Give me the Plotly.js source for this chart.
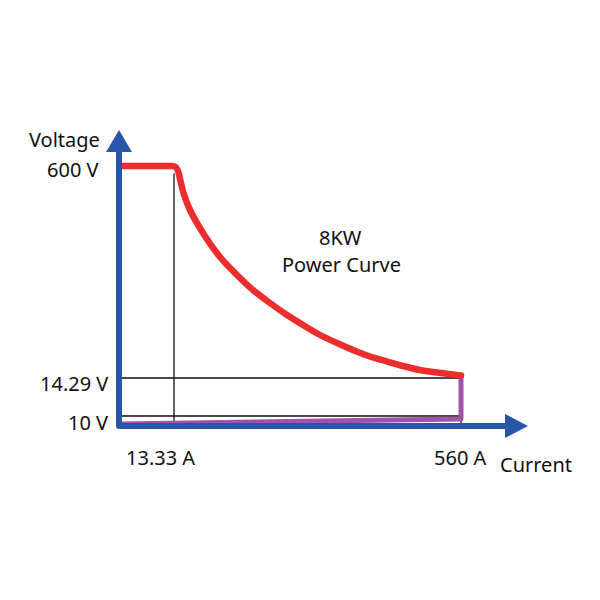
<!DOCTYPE html>
<html>
<head>
<meta charset="utf-8">
<script src="https://cdn.plot.ly/plotly-3.0.1.min.js"></script>
<style>html,body{margin:0;padding:0;background:#fff;}#chart{width:600px;height:600px;}
#chart .scatterlayer path.js-line{stroke-linejoin:round;stroke-linecap:round;}</style>
</head>
<body>
<div id="chart"></div>
<script>
// Schematic (not-to-scale) axis units
const powerLabel = "8KW";
const curveLabel = "Power Curve";
const currentTickLabels = ["13.33 A", "560 A"];
const currentTickPos = [55, 342];
const voltageTickLabels = ["600 V", "14.29 V", "10 V"];
const voltageTickPos = [260, 48, 10];

// Constant-voltage then constant-power (8 kW) curve, schematic positions
const curveX = [3, 30, 52, 55, 57.5, 59.5, 61.5, 64.5, 71, 84, 101, 118, 134, 151, 168, 184, 201, 218, 234, 251, 268, 284, 301, 318, 330, 342];
const curveY = [260, 260, 260, 259.7, 258, 253.5, 245, 233, 216, 193, 169, 151, 136, 123, 111, 101, 91, 83, 76, 69.5, 64.5, 60, 56, 53.5, 52, 50.5];

// Constant-current limit segment (purple)
const limitX = [0, 342, 342];
const limitY = [2, 7, 50];

// Axis extents
const xAxisEnd = 386, yAxisEnd = 274;

const FONT = "Noto Sans, Open Sans, sans-serif";
const BLUE = "#2957a8", RED = "#ec2d2d", PURPLE = "#a152aa";

const traces = [];
const guide = {color:"#111", width:1.3, simplify:false};
traces.push({x:[currentTickPos[0], currentTickPos[0]], y:[252, 0], mode:"lines", line:guide, hoverinfo:"skip"});
traces.push({x:[0, currentTickPos[1]], y:[voltageTickPos[1], voltageTickPos[1]], mode:"lines", line:guide, hoverinfo:"skip"});
traces.push({x:[0, currentTickPos[1]], y:[voltageTickPos[2], voltageTickPos[2]], mode:"lines", line:guide, hoverinfo:"skip"});
traces.push({x:[currentTickPos[1], currentTickPos[1]], y:[voltageTickPos[2], 0], mode:"lines", line:guide, hoverinfo:"skip"});
traces.push({x:limitX, y:limitY, mode:"lines", line:{color:PURPLE, width:5, simplify:false}, hoverinfo:"skip"});
traces.push({x:curveX, y:curveY, mode:"lines", line:{color:RED, width:6.5, simplify:false, shape:"spline", smoothing:0.6}, hoverinfo:"skip"});
traces.push({x:[0, 0, xAxisEnd], y:[yAxisEnd, 0, 0], mode:"lines", line:{color:BLUE, width:6, simplify:false}, hoverinfo:"skip"});

const ann = [];
function txt(text, x, y, xanchor, extra) {
  ann.push(Object.assign({text:text, x:x, y:y, xref:"x", yref:"y", showarrow:false, xanchor:xanchor, yanchor:"middle",
    font:{family:FONT, size:20, color:"#111"}}, extra || {}));
}
txt("Voltage", -55, 287, "center");
txt(voltageTickLabels[0], -18, voltageTickPos[0], "right", {yshift:-3});
txt(voltageTickLabels[1], -9, voltageTickPos[1], "right", {yshift:-5});
txt(voltageTickLabels[2], -9, voltageTickPos[2], "right", {yshift:-6});
txt(currentTickLabels[0], 41, -31, "center");
txt(currentTickLabels[1], 341, -31, "center");
txt("Current", 417, -38, "center");
txt(powerLabel, 221, 189, "center");
txt(curveLabel, 222, 162, "center");

const shapes = [
  {type:"path", xref:"x", yref:"y", xsizemode:"pixel", ysizemode:"pixel", xanchor:0, yanchor:yAxisEnd,
   path:"M -13 0 L 13 0 L 0 22 Z", fillcolor:BLUE, line:{width:0}},
  {type:"path", xref:"x", yref:"y", xsizemode:"pixel", ysizemode:"pixel", xanchor:xAxisEnd, yanchor:0,
   path:"M 0 -12 L 0 12 L 23 0 Z", fillcolor:BLUE, line:{width:0}}
];

const layout = {
  width:600, height:600,
  margin:{l:0, r:0, t:0, b:0, pad:0},
  paper_bgcolor:"#fff", plot_bgcolor:"#fff",
  showlegend:false,
  xaxis:{range:[-119,481], visible:false, fixedrange:true},
  yaxis:{range:[-174,426], visible:false, fixedrange:true},
  annotations:ann,
  shapes:shapes
};
Plotly.newPlot("chart", traces, layout, {displayModeBar:false, staticPlot:true});
</script>
</body>
</html>
